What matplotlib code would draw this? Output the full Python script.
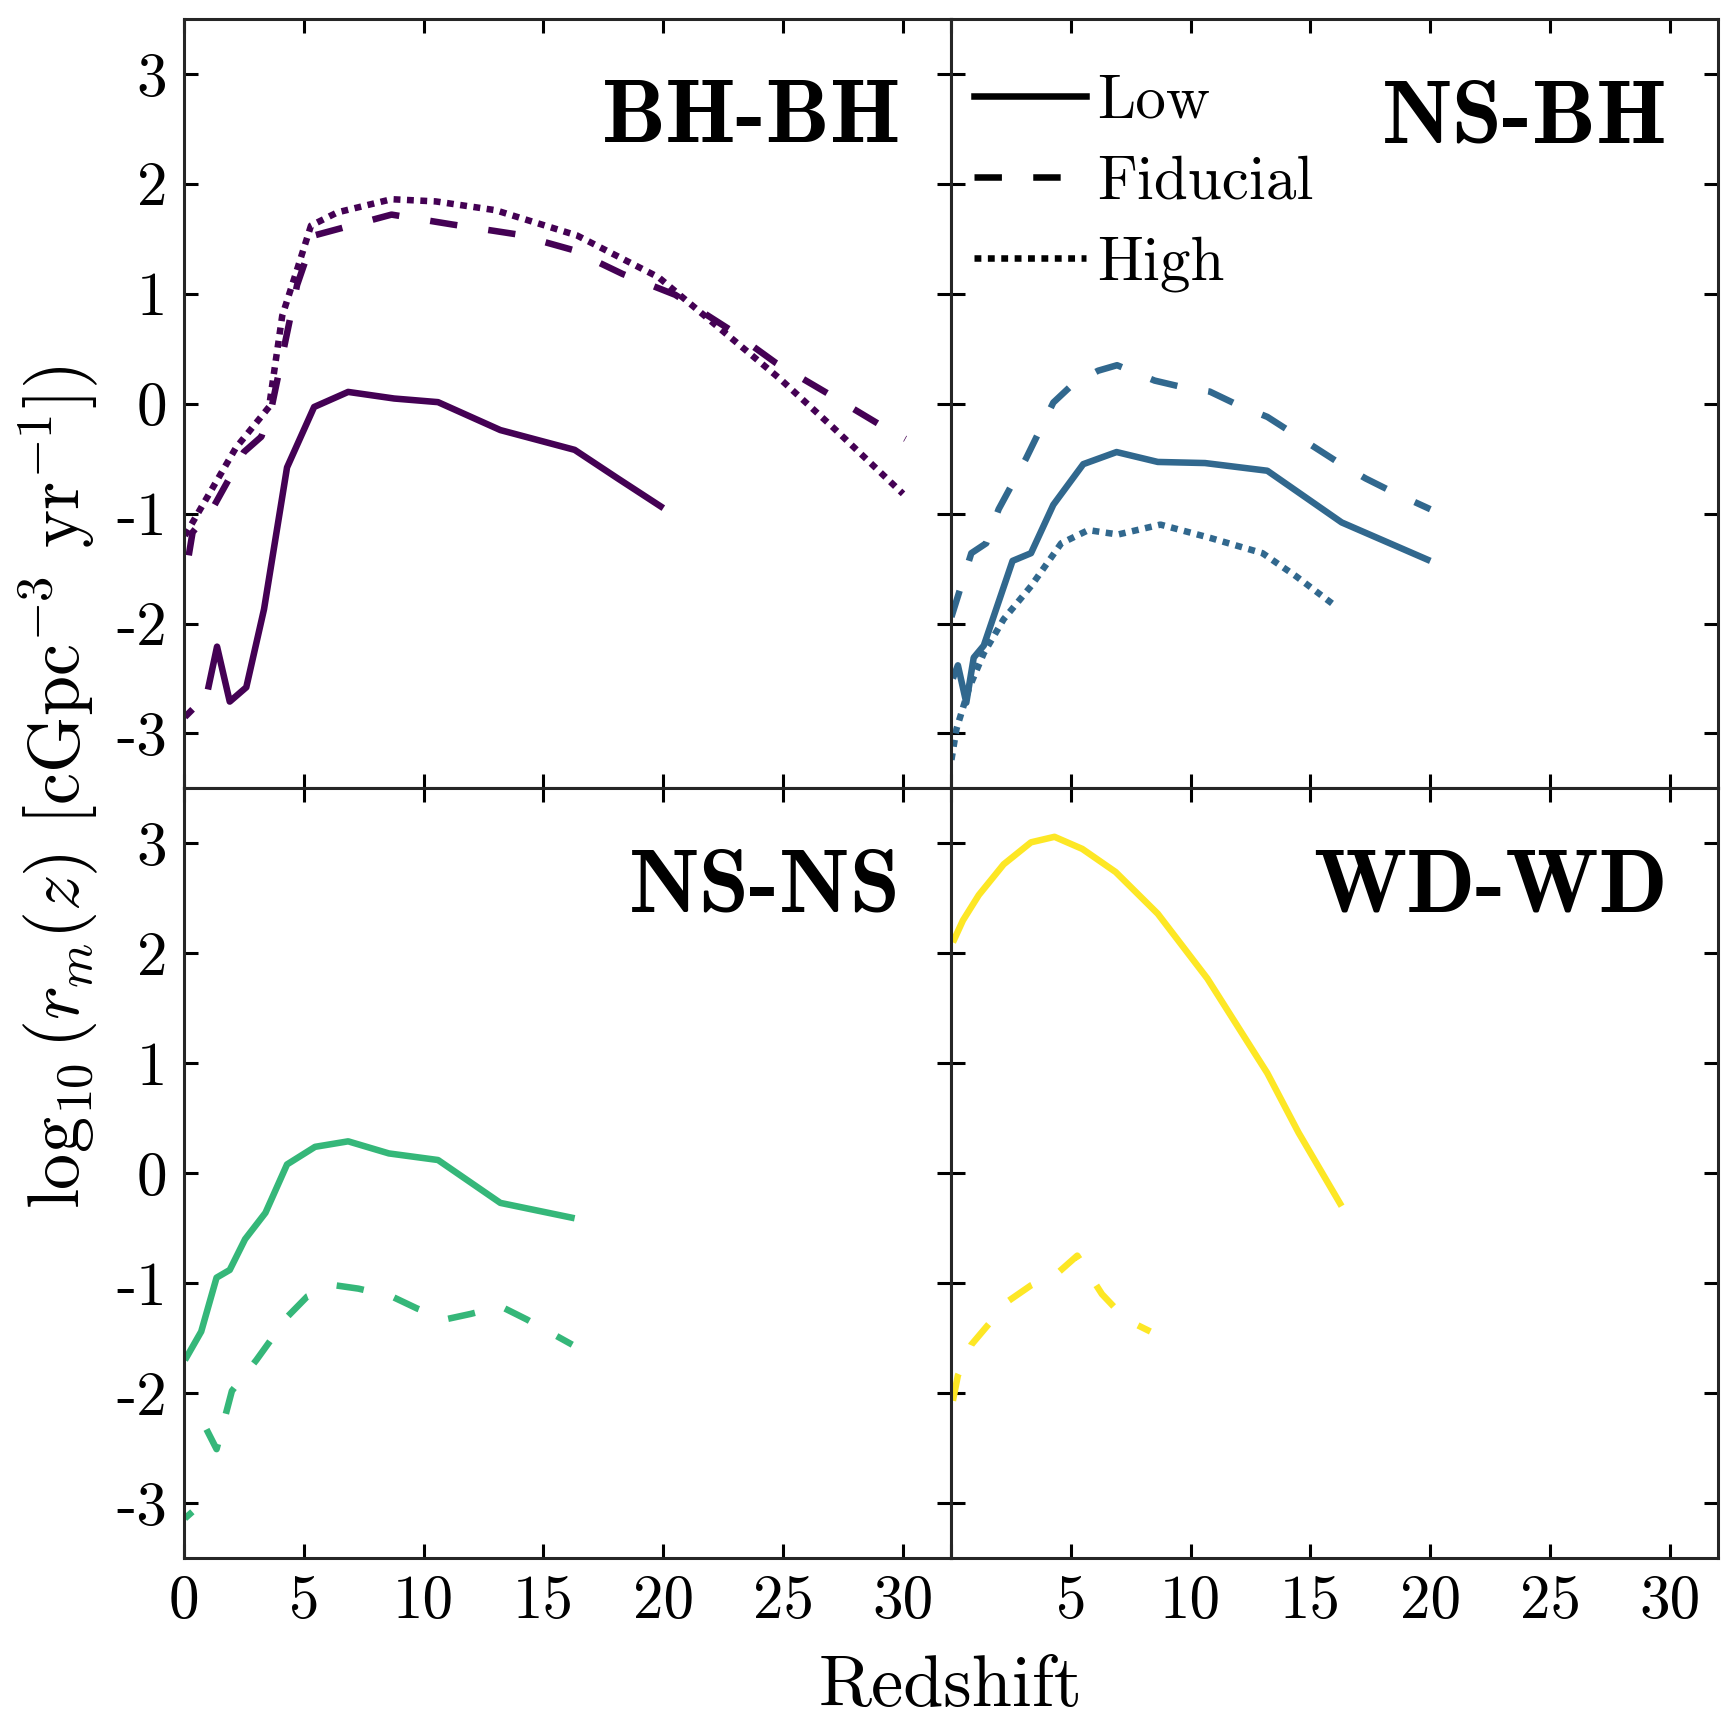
import numpy as np
import matplotlib
matplotlib.use('Agg')
import matplotlib.pyplot as plt

plt.rcParams['font.family'] = 'cmr10'
plt.rcParams['mathtext.fontset'] = 'cm'
plt.rcParams['axes.unicode_minus'] = False
plt.rcParams['axes.formatter.use_mathtext'] = True

nan = np.nan

## the data (redshift, log10 rate)
bhbh_low_z = [0.04, 0.36, nan, 1.0, 1.38, 1.91, 2.6, 3.34, 4.3, 5.43, 6.85, 8.77, 10.6, 13.2, 16.3, 18.1, 20.0]
bhbh_low_r = [-2.85, -2.78, nan, -2.6, -2.21, -2.71, -2.58, -1.87, -0.58, -0.03, 0.107, 0.047, 0.014, -0.24, -0.42, -0.68, -0.95]
bhbh_fid_z = [0.2, 0.36, 1.28, 2.5, 3.23, 3.66, 4.72, 5.43, 8.66, 11.2, 13.9, 16.2, 18.3, 20.5, 22.8, 24.7, 26.96, 29.1, 30.1]
bhbh_fid_r = [-1.38, -1.17, -0.92, -0.44, -0.30, -0.03, 1.08, 1.53, 1.72, 1.63, 1.54, 1.40, 1.18, 0.99, 0.67, 0.37, 0.08, -0.2, -0.32]
bhbh_high_z = [0.04, 2.17, 3.55, 4.1, 4.72, 5.3, 6.4, 8.66, 10.5, 13.0, 16.4, 19.8, 24.9, 27.1, 30.0]
bhbh_high_r = [-1.2, -0.40, -0.03, 0.80, 1.22, 1.62, 1.74, 1.86, 1.84, 1.76, 1.53, 1.15, 0.22, -0.22, -0.82]

nsbh_low_z = [0.08, 0.29, 0.64, 0.95, 1.37, 2.57, 3.34, 4.27, 5.52, 6.91, 8.63, 10.6, 13.2, 16.3, 20.0]
nsbh_low_r = [-2.5, -2.38, -2.72, -2.31, -2.2, -1.43, -1.36, -0.92, -0.55, -0.44, -0.53, -0.54, -0.61, -1.08, -1.43]
nsbh_fid_z = [0.02, 0.85, 1.47, 1.99, 3.13, 4.27, 5.1, 6.14, 6.93, 8.5, 9.67, 10.8, 11.95, 13.2, 16.2, 17.3, 18.4, 20.0]
nsbh_fid_r = [-1.94, -1.36, -1.27, -0.96, -0.5, 0.01, 0.18, 0.30, 0.35, 0.21, 0.15, 0.11, -0.01, -0.12, -0.54, -0.68, -0.80, -0.96]
nsbh_high_z = [0.02, 0.23, 0.75, 1.37, 2.2, 3.34, 4.6, 5.73, 6.97, 8.74, 10.8, 13.0, 14.4, 16.1]
nsbh_high_r = [-3.24, -2.96, -2.59, -2.27, -1.96, -1.66, -1.27, -1.15, -1.19, -1.10, -1.22, -1.36, -1.57, -1.85]

nsns_low_z = [0.04, 0.72, 1.36, 1.91, 2.55, 3.4, 4.3, 5.47, 6.85, 8.55, 10.6, 13.2, 16.3]
nsns_low_r = [-1.70, -1.44, -0.95, -0.88, -0.60, -0.36, 0.08, 0.24, 0.29, 0.18, 0.12, -0.27, -0.41]
nsns_fid_z = [0.04, 0.35, nan, 0.94, 1.36, 2.0, 3.02, 4.34, 5.15, 6.32, 7.28, 8.66, 9.72, 10.9, 11.96, 13.2, 14.3, 16.2]
nsns_fid_r = [-3.14, -3.08, nan, -2.33, -2.51, -1.98, -1.70, -1.30, -1.12, -1.02, -1.05, -1.12, -1.23, -1.33, -1.28, -1.21, -1.33, -1.56]

wdwd_low_z = [0.08, 0.5, 1.16, 2.2, 3.34, 4.32, 5.48, 6.87, 8.63, 10.7, 13.2, 14.5, 16.3]
wdwd_low_r = [2.10, 2.3, 2.53, 2.81, 3.01, 3.06, 2.95, 2.74, 2.36, 1.77, 0.91, 0.37, -0.30]
wdwd_fid_z = [0.08, 0.29, 0.85, 1.47, 2.41, 3.34, 4.44, 5.27, 6.3, 7.3, 8.32]
wdwd_fid_r = [-2.07, -1.84, -1.56, -1.40, -1.16, -1.02, -0.91, -0.75, -1.1, -1.33, -1.44]

names = ['BH-BH', 'NS-BH', 'NS-NS', 'WD-WD']
colors = ['#440154', '#31688e', '#35b779', '#fde725']

curves = [
    [(bhbh_low_z, bhbh_low_r, 'low'), (bhbh_fid_z, bhbh_fid_r, 'fid'), (bhbh_high_z, bhbh_high_r, 'high')],
    [(nsbh_low_z, nsbh_low_r, 'low'), (nsbh_fid_z, nsbh_fid_r, 'fid'), (nsbh_high_z, nsbh_high_r, 'high')],
    [(nsns_low_z, nsns_low_r, 'low'), (nsns_fid_z, nsns_fid_r, 'fid')],
    [(wdwd_low_z, wdwd_low_r, 'low'), (wdwd_fid_z, wdwd_fid_r, 'fid')],
]

styles = {'low': '-', 'fid': (0, (4.2, 4.8)), 'high': (0, (1.05, 1.0))}
lw = 4.7

fig, axes = plt.subplots(2, 2, figsize=(17.29, 17.2), dpi=100)
fig.subplots_adjust(left=0.1064, right=0.9936, top=0.989, bottom=0.0942,
                    hspace=0, wspace=0)

xticks = [0, 5, 10, 15, 20, 25, 30]
yticks = [-3, -2, -1, 0, 1, 2, 3]

for i, ax in enumerate(axes.flat):
    for z, r, kind in curves[i]:
        ax.plot(z, r, color=colors[i], lw=lw, linestyle=styles[kind],
                dash_capstyle='butt', solid_capstyle='butt')
    ax.set_xlim(0, 32)
    ax.set_ylim(-3.5, 3.5)
    ax.set_xticks(xticks)
    ax.set_yticks(yticks)
    ax.tick_params(direction='in', length=10, width=2.2, top=True, right=True,
                   labelsize=44, pad=12)
    for sp in ax.spines.values():
        sp.set_linewidth(2.2)
        sp.set_color('#262626')
    row, col = divmod(i, 2)
    if row == 0:
        ax.set_xticklabels([])
    else:
        labs = [str(t) for t in xticks]
        if col == 1:
            labs[0] = ''
        ax.set_xticklabels(labs)
    if col == 1:
        ax.set_yticklabels([])
    else:
        ax.set_yticklabels([str(t) for t in yticks])
    ax.text(0.935, 0.84, names[i], transform=ax.transAxes, ha='right',
            va='baseline', fontsize=65, fontfamily='cmb10')

# legend in NS-BH panel
h1, = axes[0, 1].plot([], [], color='black', lw=lw, linestyle=styles['low'])
h2, = axes[0, 1].plot([], [], color='black', lw=lw, linestyle=styles['fid'], dash_capstyle='butt')
h3, = axes[0, 1].plot([], [], color='black', lw=lw, linestyle=styles['high'], dash_capstyle='butt')
axes[0, 1].legend((h1, h2, h3), ('Low', 'Fiducial', 'High'), loc='upper left',
                  bbox_to_anchor=(0.03, 0.928), frameon=False, fontsize=44,
                  handlelength=1.84, handletextpad=0.18, labelspacing=0.42,
                  borderaxespad=0, borderpad=0)

fig.text(0.5495, 0.008, 'Redshift', ha='center', va='baseline', fontsize=52)
fig.text(0.034, 0.542, r'$\log_{10}(r_m(z)$ [cGpc$^{-3}$ yr$^{-1}$])',
         rotation=90, ha='center', va='center', fontsize=52)

fig.savefig('out.png', dpi=100)
